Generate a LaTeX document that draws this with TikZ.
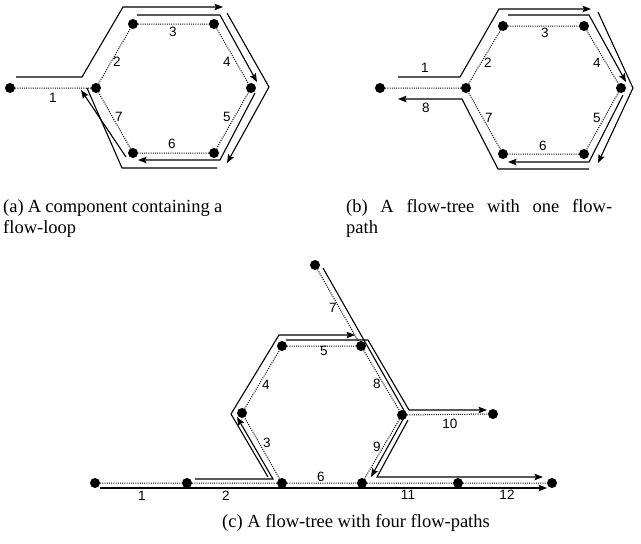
\documentclass[tikz,border=0pt]{standalone}
\usepackage{fontspec}
\setmainfont{Liberation Serif}
\newfontfamily\lblfont{Liberation Sans}
\usetikzlibrary{arrows.meta}
\begin{document}
\begin{tikzpicture}[x=1pt,y=-1pt,
  dot/.style={circle,fill=black,inner sep=0pt,minimum size=10pt},
  edgeline/.style={line width=1pt,dash pattern=on 1pt off 1.2pt},
  flow/.style={line width=1.1pt},
  flowa/.style={flow,-{Stealth[length=8.5pt,width=6.5pt,inset=1.5pt]}},
  lbl/.style={font=\lblfont\fontsize{13.5}{14}\selectfont,inner sep=0pt},
  captxt/.style={font=\fontsize{18.5}{20}\selectfont,inner sep=0pt,anchor=base west}]
\useasboundingbox (0,0) rectangle (641,544);

% ---------- (a) ----------
\node[dot] (a0) at (10,88) {};
\node[dot] (aL) at (96,88) {};
\node[dot] (aTL) at (133,24) {};
\node[dot] (aTR) at (214,24) {};
\node[dot] (aR) at (251,88) {};
\node[dot] (aBR) at (214,153) {};
\node[dot] (aBL) at (133,153) {};
\draw[edgeline] (a0)--(aL) (aL)--(aTL) (aTL)--(aTR) (aTR)--(aR) (aR)--(aBR) (aBR)--(aBL) (aBL)--(aL);
\draw[flowa] (16,77)--(82,77)--(123,7)--(223,7);
\draw[flowa] (137,15)--(220,15)--(257,82);
\draw[flowa] (227,13)--(269,87)--(227,163);
\draw[flowa] (255,93)--(220,160)--(138,160);
\draw[flow] (217,168)--(122,168)--(87,88);
\draw[flowa] (126,157)--(81,90);
\node[lbl] (la1) at (53,98) {1};
\node[lbl] (la2) at (117,62) {2};
\node[lbl] (la3) at (173,32) {3};
\node[lbl] (la4) at (227,62) {4};
\node[lbl] (la5) at (227,117) {5};
\node[lbl] (la6) at (172,144) {6};
\node[lbl] (la7) at (119,117) {7};
\node[captxt] (capa1) at (3,212) {\makebox[219pt][s]{(a) A component containing a}};
\node[captxt] (capa2) at (3,233) {flow-loop};

% ---------- (b) ----------
\node[dot] (b0) at (380,88) {};
\node[dot] (bL) at (466,88) {};
\node[dot] (bTL) at (503,26) {};
\node[dot] (bTR) at (584,26) {};
\node[dot] (bR) at (621,88) {};
\node[dot] (bBR) at (584,154) {};
\node[dot] (bBL) at (503,154) {};
\draw[edgeline] (b0)--(bL) (bL)--(bTL) (bTL)--(bTR) (bTR)--(bR) (bR)--(bBR) (bBR)--(bBL) (bBL)--(bL);
\draw[flowa] (398,77)--(460,77)--(499,9)--(591,9);
\draw[flowa] (508,15)--(589,15)--(626,82);
\draw[flowa] (598,12)--(633,88)--(598,163);
\draw[flowa] (623,95)--(589,162)--(508,162);
\draw[flowa] (589,169)--(498,169)--(462,99)--(398,99);
\node[lbl] (lb1) at (425,68) {1};
\node[lbl] (lb2) at (488,63) {2};
\node[lbl] (lb3) at (545,33) {3};
\node[lbl] (lb4) at (597,63) {4};
\node[lbl] (lb5) at (597,118) {5};
\node[lbl] (lb6) at (543,146) {6};
\node[lbl] (lb7) at (489,118) {7};
\node[lbl] (lb8) at (426,108) {8};
\node[captxt] (capb1) at (346,212) {\makebox[266pt][s]{(b) A flow-tree with one flow-}};
\node[captxt] (capb2) at (346,233) {path};

% ---------- (c) ----------
\node[dot] (c1) at (95,483) {};
\node[dot] (c2) at (187,483) {};
\node[dot] (cBL) at (282,483) {};
\node[dot] (cL) at (242,413) {};
\node[dot] (cTL) at (282,346) {};
\node[dot] (cTR) at (361,346) {};
\node[dot] (c7) at (315,265) {};
\node[dot] (cR) at (402,415) {};
\node[dot] (c10) at (493,414) {};
\node[dot] (cBR) at (362,483) {};
\node[dot] (c11) at (458,483) {};
\node[dot] (c12) at (552,483) {};
\draw[edgeline] (c1)--(c2) (c2)--(cBL) (cBL)--(cL) (cL)--(cTL) (cTL)--(cTR) (c7)--(cTR)
  (cTR)--(cR) (cR)--(c10) (cR)--(cBR) (cBL)--(cBR) (cBR)--(c11) (c11)--(c12);
\draw[flowa] (100,488)--(547,488);
\draw[flowa] (195,479)--(273,479)--(237,417);
\draw[flowa] (268,477)--(231,414)--(279,335)--(355,335);
\draw[flowa] (286,340)--(368,340)--(409,410)--(487,410);
\draw[flowa] (323,268)--(406,414)--(371,477);
\draw[flowa] (408,420)--(377,477)--(543,477);
\node[lbl] (lc1) at (142,496) {1};
\node[lbl] (lc2) at (226,496) {2};
\node[lbl] (lc3) at (267,443) {3};
\node[lbl] (lc4) at (266,385) {4};
\node[lbl] (lc5) at (324,351) {5};
\node[lbl] (lc6) at (321,477) {6};
\node[lbl] (lc7) at (333,308) {7};
\node[lbl] (lc8) at (377,384) {8};
\node[lbl] (lc9) at (377,447) {9};
\node[lbl] (lc10) at (450,424) {10};
\node[lbl] (lc11) at (408,495) {11};
\node[lbl] (lc12) at (507,495) {12};
\node[captxt,anchor=base] (capc) at (356,527) {(c) A flow-tree with four flow-paths};
\end{tikzpicture}
\end{document}
